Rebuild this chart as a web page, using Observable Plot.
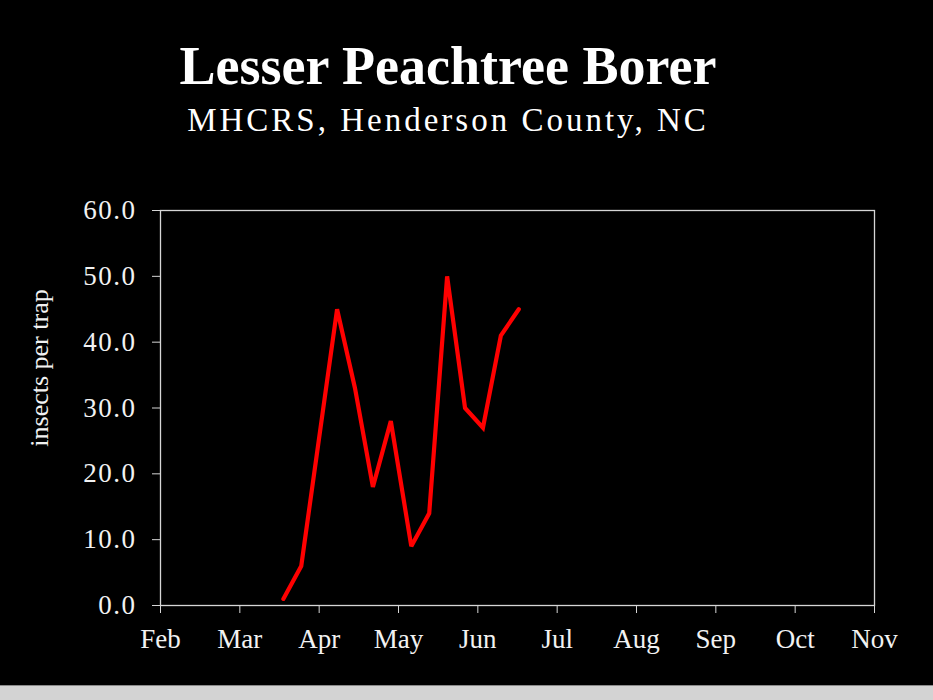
<!DOCTYPE html>
<html>
<head>
<meta charset="utf-8">
<script src="https://cdn.jsdelivr.net/npm/d3@7"></script>
<script src="https://cdn.jsdelivr.net/npm/@observablehq/plot@0.6"></script>
<style>
  html, body { margin: 0; padding: 0; background: #000; }
  #page { position: relative; width: 933px; height: 700px; background: #000; overflow: hidden; font-family: "Liberation Serif", "Times New Roman", serif; color: #fff; }
  #head { position: relative; height: 170px; }
  #title { position: absolute; left: 0; top: 39px; width: 896px; text-align: center; font-size: 54px; line-height: 1; font-weight: bold; color: #fff; }
  #subtitle { position: absolute; left: 0; top: 104px; width: 896px; text-align: center; font-size: 33px; line-height: 1; letter-spacing: 3px; color: #fff; }
  #chart { height: 515px; }
  #foot { position: absolute; left: 0; top: 685px; width: 933px; height: 15px; background: #d3d3d3; border-top: 1px solid #8a8a8a; box-sizing: border-box; }
  g[aria-label="y-axis tick label"] { letter-spacing: 1.5px; }
</style>
</head>
<body>
<div id="page">
  <div id="head">
    <div id="title">Lesser Peachtree Borer</div>
    <div id="subtitle">MHCRS, Henderson County, NC</div>
  </div>
  <div id="chart"></div>
  <div id="foot"></div>
</div>
<script>
// Month tick labels (axis spans Feb → Nov, evenly spaced months)
const monthLabels = ["Feb", "Mar", "Apr", "May", "Jun", "Jul", "Aug", "Sep", "Oct", "Nov"];
const daysPerMonth = 31;
// Trap dates as days after Feb 1 (on the evenly spaced month axis)
const trapDays = [48, 55, 69, 76, 83, 90, 98, 105, 112, 119, 126, 133, 140];
// Insects per trap
const insectsPerTrap = [1, 6, 45, 33, 18, 28, 9, 14, 50, 30, 27, 41, 45];
const yTicks = [0, 10, 20, 30, 40, 50, 60];
const yLabel = "insects per trap";

const data = trapDays.map((d, i) => ({day: d, count: insectsPerTrap[i]}));
const xTicks = monthLabels.map((_, i) => i * daysPerMonth);

const axisColor = "#d6d6d6";

const chart = Plot.plot({
  width: 933,
  height: 515,
  marginTop: 40,
  marginBottom: 80,
  marginLeft: 160,
  marginRight: 59,
  style: {background: "#000", color: "#f2f2f2", fontFamily: "Liberation Serif, serif", fontSize: "27px"},
  x: {domain: [0, (monthLabels.length - 1) * daysPerMonth]},
  y: {domain: [0, 60]},
  marks: [
    Plot.frame({stroke: axisColor, strokeWidth: 1.3}),
    Plot.axisY({
      ticks: yTicks,
      tickFormat: d => d.toFixed(1),
      tickSize: 8,
      tickPadding: 16,
      stroke: axisColor,
      fill: "#f2f2f2",
      label: null
    }),
    Plot.axisX({
      ticks: xTicks,
      tickFormat: (d, i) => monthLabels[Math.round(d / daysPerMonth)],
      tickSize: 8,
      tickPadding: 15,
      stroke: axisColor,
      fill: "#f2f2f2",
      label: null
    }),
    Plot.text([yLabel], {
      frameAnchor: "left",
      textAnchor: "middle",
      lineAnchor: "middle",
      rotate: -90,
      dx: -121,
      dy: -40,
      fontSize: 26,
      fill: "#f2f2f2",
      text: d => d
    }),
    Plot.line(data, {x: "day", y: "count", stroke: "#ff0000", strokeWidth: 4.2, strokeLinejoin: "miter", strokeMiterlimit: 3})
  ]
});
document.getElementById("chart").appendChild(chart);
</script>
</body>
</html>
